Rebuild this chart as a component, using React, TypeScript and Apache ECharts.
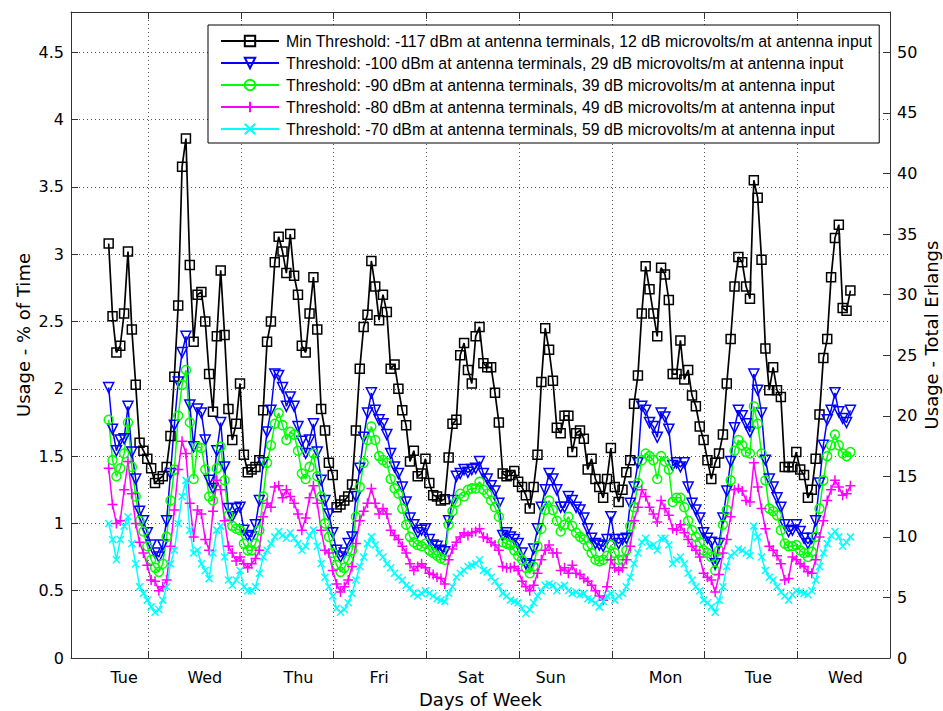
import React, { useEffect, useRef } from "react";
import * as echarts from "echarts";

// hourly samples; first sample is 10.25 h before Wednesday 00:00
const START_HOUR = -10.25;

const X_MIN = -20 / 24;
const X_MAX = 8;
const DAY_BOUNDARIES = [0, 1, 2, 3, 4, 5, 6, 7];
const DAY_LABEL_POS = [-0.26, 0.61, 1.62, 2.49, 3.48, 4.34, 5.58, 6.58, 7.52];
const DAY_LABELS = ["Tue", "Wed", "Thu", "Fri", "Sat", "Sun", "Mon", "Tue", "Wed"];

const SERIES_NAMES = [
  "Min Threshold: -117 dBm at antenna terminals, 12 dB microvolts/m at antenna input",
  "Threshold: -100 dBm at antenna terminals, 29 dB microvolts/m at antenna input",
  "Threshold: -90 dBm at antenna terminals, 39 dB microvolts/m at antenna input",
  "Threshold: -80 dBm at antenna terminals, 49 dB microvolts/m at antenna input",
  "Threshold: -70 dBm at antenna terminals, 59 dB microvolts/m at antenna input",
];

const minThreshold = [
  3.08, 2.54, 2.27, 2.32, 2.56, 3.02, 2.44, 2.03, 1.6, 1.54,
  1.48, 1.41, 1.3, 1.33, 1.35, 1.42, 1.65, 2.09, 2.62, 3.65,
  3.86, 2.92, 2.35, 2.7, 2.72, 2.5, 2.11, 1.83, 2.39, 2.88,
  2.4, 1.85, 1.62, 1.74, 2.04, 1.51, 1.38, 1.4, 1.42, 1.47,
  1.84, 2.35, 2.5, 2.94, 3.13, 3.02, 2.86, 3.15, 2.84, 2.7,
  2.32, 2.27, 2.56, 2.83, 2.44, 1.85, 1.69, 1.45, 1.36, 1.12,
  1.14, 1.17, 1.2, 1.29, 1.69, 2.15, 2.46, 2.55, 2.95, 2.76,
  2.51, 2.7, 2.57, 2.15, 2.18, 2.0, 1.84, 1.73, 1.46, 1.54,
  1.35, 1.37, 1.48, 1.3, 1.21, 1.2, 1.17, 1.18, 1.49, 1.74,
  1.77, 2.25, 2.34, 2.14, 2.04, 2.39, 2.46, 2.19, 2.16, 2.16,
  1.97, 1.75, 1.37, 1.35, 1.36, 1.39, 1.31, 1.27, 1.21, 1.11,
  1.27, 1.51, 2.05, 2.45, 2.29, 2.06, 1.71, 1.67, 1.8, 1.8,
  1.53, 1.67, 1.69, 1.63, 1.4, 1.48, 1.33, 1.27, 1.19, 1.33,
  1.56, 1.27, 1.16, 1.25, 1.38, 1.47, 1.89, 2.1, 2.56, 2.91,
  2.74, 2.56, 2.39, 2.9, 2.85, 2.66, 2.11, 2.11, 2.36, 2.07,
  2.14, 1.95, 1.87, 1.72, 1.62, 1.47, 1.33, 1.45, 1.52, 1.66,
  2.04, 2.37, 2.76, 2.98, 2.94, 2.76, 2.67, 3.55, 3.42, 2.96,
  2.3, 1.99, 2.16, 1.99, 1.94, 1.42, 1.42, 1.42, 1.53, 1.4,
  1.36, 1.19, 1.25, 1.48, 1.81, 2.23, 2.37, 2.83, 3.12, 3.22,
  2.6, 2.58, 2.73,
];

const threshold100 = [
  2.01, 1.7, 1.54, 1.62, 1.63, 1.87, 1.53, 1.33, 1.09, 1.02,
  0.93, 0.84, 0.78, 0.75, 0.84, 1.02, 1.37, 1.73, 2.05, 2.27,
  2.39, 1.88, 1.57, 1.85, 1.82, 1.62, 1.32, 1.26, 1.54, 1.75,
  1.42, 1.11, 1.05, 1.11, 1.12, 0.95, 0.91, 0.9, 0.99, 1.17,
  1.45, 1.68, 1.84, 2.11, 2.1, 2.01, 1.87, 1.94, 1.87, 1.72,
  1.61, 1.52, 1.62, 1.74, 1.53, 1.32, 1.17, 1.07, 0.93, 0.8,
  0.75, 0.78, 0.85, 0.9, 1.2, 1.41, 1.64, 1.82, 1.97, 1.84,
  1.77, 1.74, 1.66, 1.52, 1.42, 1.37, 1.27, 1.16, 1.04, 0.99,
  0.93, 0.95, 0.96, 0.88, 0.84, 0.83, 0.8, 0.79, 1.02, 1.17,
  1.35, 1.37, 1.4, 1.38, 1.4, 1.41, 1.46, 1.37, 1.33, 1.28,
  1.24, 1.15, 0.91, 0.93, 0.9, 0.88, 0.85, 0.78, 0.7, 0.69,
  0.81, 0.96, 1.12, 1.25, 1.37, 1.33, 1.25, 1.12, 1.12, 1.2,
  1.17, 1.12, 1.1, 1.04, 0.96, 0.89, 0.85, 0.84, 0.83, 0.88,
  1.05, 0.88, 0.85, 0.88, 0.89, 1.15, 1.27, 1.45, 1.87, 1.84,
  1.75, 1.72, 1.64, 1.82, 1.79, 1.7, 1.43, 1.45, 1.42, 1.45,
  1.27, 1.15, 1.1, 1.04, 0.93, 0.89, 0.86, 0.7, 0.85, 1.04,
  1.24, 1.46, 1.71, 1.84, 1.8, 1.74, 1.68, 2.11, 1.99, 1.82,
  1.47, 1.33, 1.27, 1.19, 1.12, 0.99, 0.94, 0.95, 0.99, 0.94,
  0.89, 0.85, 0.89, 1.02, 1.3, 1.58, 1.77, 1.84, 1.97, 1.83,
  1.78, 1.75, 1.84,
];

const threshold90 = [
  1.77, 1.47, 1.35, 1.41, 1.52, 1.75, 1.42, 1.2, 1.02, 0.94,
  0.83, 0.73, 0.67, 0.64, 0.7, 0.9, 1.17, 1.4, 1.8, 2.03,
  2.14, 1.75, 1.33, 1.57, 1.56, 1.4, 1.2, 1.17, 1.41, 1.57,
  1.32, 1.06, 0.98, 0.96, 0.95, 0.85, 0.8, 0.8, 0.85, 0.95,
  1.2, 1.45, 1.58, 1.74, 1.82, 1.73, 1.62, 1.68, 1.66, 1.54,
  1.37, 1.33, 1.42, 1.52, 1.35, 1.2, 1.0, 0.9, 0.78, 0.69,
  0.64, 0.67, 0.73, 0.8, 1.05, 1.27, 1.45, 1.62, 1.72, 1.62,
  1.5, 1.47, 1.45, 1.33, 1.26, 1.22, 1.11, 0.99, 0.9, 0.86,
  0.84, 0.83, 0.85, 0.8, 0.78, 0.76, 0.74, 0.73, 0.99, 1.09,
  1.16, 1.22, 1.2, 1.25, 1.26, 1.26, 1.31, 1.25, 1.22, 1.17,
  1.12, 1.05, 0.86, 0.85, 0.84, 0.8, 0.76, 0.73, 0.67, 0.63,
  0.68, 0.83, 0.96, 1.1, 1.17, 1.1, 1.02, 0.94, 0.99, 1.05,
  0.98, 0.93, 0.9, 0.88, 0.83, 0.78, 0.73, 0.72, 0.73, 0.76,
  0.84, 0.78, 0.73, 0.73, 0.8, 0.98, 1.12, 1.3, 1.47, 1.52,
  1.5, 1.47, 1.33, 1.5, 1.46, 1.4, 1.16, 1.19, 1.19, 1.12,
  1.02, 0.95, 0.9, 0.86, 0.8, 0.78, 0.75, 0.65, 0.8, 0.99,
  1.1, 1.32, 1.54, 1.62, 1.58, 1.53, 1.52, 1.87, 1.74, 1.52,
  1.32, 1.11, 1.09, 1.06, 0.95, 0.85, 0.83, 0.83, 0.84, 0.8,
  0.78, 0.75, 0.79, 0.9, 1.11, 1.32, 1.5, 1.58, 1.66, 1.58,
  1.52, 1.5, 1.53,
];

const threshold80 = [
  1.41, 1.14, 1.0, 1.02, 1.25, 1.46, 1.22, 1.0, 0.86, 0.78,
  0.69, 0.58, 0.57, 0.5, 0.53, 0.58, 0.83, 1.1, 1.4, 1.61,
  1.52, 1.15, 0.9, 1.1, 1.07, 0.88, 0.8, 1.09, 1.32, 1.25,
  1.02, 0.83, 0.78, 0.72, 0.75, 0.7, 0.67, 0.7, 0.74, 0.8,
  1.05, 1.15, 1.12, 1.27, 1.28, 1.19, 1.25, 1.2, 1.15, 1.07,
  0.95, 1.04, 1.19, 1.28, 1.15, 0.95, 0.8, 0.78, 0.65, 0.55,
  0.49, 0.53, 0.58, 0.68, 0.85, 1.02, 1.09, 1.15, 1.26, 1.15,
  1.07, 1.11, 1.07, 0.95, 0.91, 0.88, 0.83, 0.78, 0.7, 0.65,
  0.68, 0.7, 0.67, 0.63, 0.62, 0.6, 0.59, 0.55, 0.73, 0.81,
  0.86, 0.9, 0.93, 0.91, 0.93, 0.94, 0.96, 0.9, 0.89, 0.86,
  0.84, 0.8, 0.68, 0.67, 0.67, 0.68, 0.65, 0.57, 0.53, 0.5,
  0.54, 0.63, 0.73, 0.8, 0.84, 0.78, 0.78, 0.65, 0.67, 0.63,
  0.69, 0.63, 0.62, 0.59, 0.57, 0.54, 0.5, 0.46, 0.43, 0.53,
  0.73, 0.67, 0.65, 0.67, 0.73, 0.83, 1.02, 1.12, 1.25, 1.2,
  1.12, 1.07, 1.01, 1.17, 1.11, 1.06, 0.96, 0.95, 0.99, 0.93,
  0.88, 0.83, 0.8, 0.75, 0.63, 0.6, 0.58, 0.49, 0.62, 0.78,
  0.88, 1.05, 1.25, 1.26, 1.24, 1.17, 1.16, 1.45, 1.27, 1.11,
  0.96, 0.83, 0.8, 0.76, 0.7, 0.58, 0.59, 0.75, 0.73, 0.7,
  0.68, 0.64, 0.63, 0.73, 0.9, 1.02, 1.17, 1.25, 1.32, 1.27,
  1.21, 1.22, 1.28,
];

const threshold70 = [
  1.0, 0.88, 0.73, 0.88, 0.98, 1.05, 0.85, 0.7, 0.53, 0.48,
  0.43, 0.38, 0.34, 0.36, 0.43, 0.53, 0.7, 0.8, 1.0, 1.2,
  1.32, 0.95, 0.78, 0.8, 0.7, 0.65, 0.59, 0.78, 0.95, 0.98,
  0.75, 0.58, 0.54, 0.58, 0.65, 0.53, 0.5, 0.5, 0.53, 0.63,
  0.75, 0.8, 0.85, 0.9, 0.94, 0.91, 0.89, 0.93, 0.89, 0.85,
  0.8, 0.83, 0.91, 0.95, 0.83, 0.7, 0.6, 0.53, 0.46, 0.37,
  0.34, 0.36, 0.41, 0.48, 0.58, 0.68, 0.75, 0.85, 0.9, 0.84,
  0.78, 0.75, 0.7, 0.67, 0.63, 0.6, 0.58, 0.54, 0.52, 0.48,
  0.46, 0.48, 0.5, 0.48, 0.46, 0.44, 0.43, 0.42, 0.48, 0.53,
  0.6, 0.63, 0.65, 0.68, 0.69, 0.7, 0.73, 0.65, 0.64, 0.6,
  0.57, 0.53, 0.48, 0.46, 0.43, 0.42, 0.41, 0.37, 0.33, 0.36,
  0.41, 0.46, 0.5, 0.54, 0.55, 0.54, 0.5, 0.53, 0.54, 0.5,
  0.48, 0.49, 0.47, 0.48, 0.44, 0.43, 0.41, 0.38, 0.42, 0.46,
  0.48, 0.43, 0.46, 0.48, 0.53, 0.6, 0.7, 0.78, 0.86, 0.89,
  0.83, 0.84, 0.8, 0.89, 0.89, 0.84, 0.7, 0.73, 0.75, 0.7,
  0.63, 0.58, 0.53, 0.5, 0.43, 0.41, 0.38, 0.34, 0.43, 0.53,
  0.68, 0.76, 0.78, 0.81, 0.8, 0.78, 0.76, 0.98, 0.9, 0.75,
  0.65, 0.6, 0.58, 0.53, 0.49, 0.46, 0.43, 0.47, 0.5, 0.49,
  0.48, 0.47, 0.5, 0.58, 0.68, 0.78, 0.85, 0.91, 0.94, 0.9,
  0.83, 0.86, 0.9,
];

const SERIES_VALUES = [minThreshold, threshold100, threshold90, threshold80, threshold70];
const SERIES_COLORS = ["#000000", "#0000ff", "#00ff00", "#ff00ff", "#00ffff"];
const SERIES_SYMBOLS = [
  "path://M0,0L10,0L10,10L0,10Z",
  "path://M0,0L10,0L5,10Z",
  "circle",
  "path://M5,0L5,10M0,5L10,5",
  "path://M0,0L10,10M10,0L0,10",
];
const SERIES_SYMBOL_SIZES = [9, 10, 9, 10, 7];
const SERIES_LINE_WIDTHS = [1.7, 1.5, 1.5, 1.5, 1.5];

const FRAME = "#333333";

export default function App() {
  const ref = useRef<HTMLDivElement>(null);

  useEffect(() => {
    if (!ref.current) return;
    const chart = echarts.init(ref.current, null, { renderer: "svg" });

    const series = SERIES_VALUES.map((vals, s) => ({
      name: SERIES_NAMES[s],
      type: "line",
      xAxisIndex: 0,
      yAxisIndex: 0,
      data: vals.map((v, i) => [(START_HOUR + i) / 24, v]),
      symbol: SERIES_SYMBOLS[s],
      symbolSize: SERIES_SYMBOL_SIZES[s],
      showSymbol: true,
      silent: true,
      itemStyle: {
        color: "rgba(0,0,0,0)",
        borderColor: SERIES_COLORS[s],
        borderWidth: 1.5,
      },
      lineStyle: { color: SERIES_COLORS[s], width: SERIES_LINE_WIDTHS[s] },
      emphasis: { disabled: true },
    }));

    const nearestLabel = (v: number) => {
      let best = 0;
      for (let i = 1; i < DAY_LABEL_POS.length; i++) {
        if (Math.abs(DAY_LABEL_POS[i] - v) < Math.abs(DAY_LABEL_POS[best] - v)) best = i;
      }
      return DAY_LABELS[best];
    };

    const option: any = {
      animation: false,
      backgroundColor: "#ffffff",
      textStyle: { fontFamily: "DejaVu Sans" },
      grid: { left: 71, right: 53, top: 12, bottom: 53, containLabel: false, outerBoundsMode: "none" },
      legend: {
        orient: "vertical",
        left: 208,
        top: 25,
        padding: [8, 7, 6, 12],
        itemGap: 6,
        itemWidth: 58,
        itemHeight: 13,
        borderColor: "#000",
        borderWidth: 1,
        backgroundColor: "#fff",
        selectedMode: false,
        textStyle: {
          fontFamily: "Liberation Sans",
          fontSize: 15.85,
          color: "#000",
          padding: [0, 0, 0, 2],
        },
        data: SERIES_NAMES,
      },
      xAxis: [
        {
          type: "value",
          position: "bottom",
          min: X_MIN,
          max: X_MAX,
          name: "Days of Week",
          nameLocation: "middle",
          nameGap: 32,
          nameMoveOverlap: false,
          nameTextStyle: { fontSize: 18, color: "#000" },
          axisLine: { show: true, onZero: false, lineStyle: { color: FRAME } },
          axisTick: { show: true, inside: true, length: 7, customValues: DAY_BOUNDARIES, lineStyle: { color: FRAME } },
          axisLabel: {
            customValues: DAY_LABEL_POS,
            formatter: (v: number) => nearestLabel(v),
            fontSize: 16,
            color: "#000",
            margin: 11,
          },
          splitLine: { show: true, lineStyle: { type: [1, 3], color: "#555", width: 1 } },
        },
        {
          type: "value",
          position: "top",
          min: X_MIN,
          max: X_MAX,
          axisLine: { show: true, onZero: false, lineStyle: { color: FRAME } },
          axisTick: { show: true, inside: true, length: 7, customValues: DAY_BOUNDARIES, lineStyle: { color: FRAME } },
          axisLabel: { show: false },
          splitLine: { show: false },
        },
      ],
      yAxis: [
        {
          type: "value",
          position: "left",
          min: 0,
          max: 4.8,
          interval: 0.5,
          name: "Usage - % of Time",
          nameLocation: "middle",
          nameGap: 39,
          nameRotate: 90,
          nameMoveOverlap: false,
          nameTextStyle: { fontSize: 18, color: "#000" },
          axisLine: { show: true, onZero: false, lineStyle: { color: FRAME } },
          axisTick: { show: true, inside: true, length: 7, lineStyle: { color: FRAME } },
          axisLabel: {
            fontSize: 16,
            color: "#000",
            margin: 7,
            formatter: (v: number) => (Math.abs(v * 2 - Math.round(v * 2)) < 1e-6 ? String(v) : ""),
          },
          splitLine: { show: true, lineStyle: { type: [1, 3], color: "#555", width: 1 } },
        },
        {
          type: "value",
          position: "right",
          min: 0,
          max: 160 / 3,
          interval: 5,
          name: "Usage - Total Erlangs",
          nameLocation: "middle",
          nameGap: 32,
          nameRotate: 90,
          nameMoveOverlap: false,
          nameTextStyle: { fontSize: 18, color: "#000" },
          axisLine: { show: true, onZero: false, lineStyle: { color: FRAME } },
          axisTick: { show: true, inside: true, length: 7, lineStyle: { color: FRAME } },
          axisLabel: {
            fontSize: 16,
            color: "#000",
            margin: 7,
            formatter: (v: number) => (Math.abs(v - Math.round(v)) < 1e-6 && Math.round(v) % 5 === 0 ? String(Math.round(v)) : ""),
          },
          splitLine: { show: false },
        },
      ],
      series,
    };

    chart.setOption(option);
    return () => chart.dispose();
  }, []);

  return (
    <div
      ref={ref}
      style={{ position: "absolute", left: 0, top: 0, width: 943, height: 711, background: "#fff" }}
    />
  );
}
